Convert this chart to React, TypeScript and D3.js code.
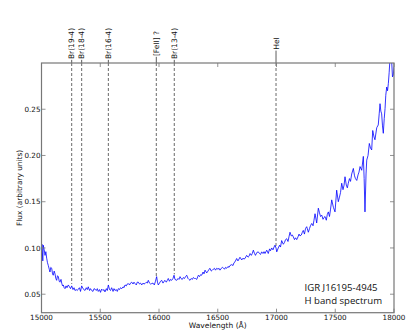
import React from "react";
import * as d3 from "d3";

// spectrum (wavelength in Angstrom, flux in arbitrary units)
const wavelength = [
  15000, 15004, 15011, 15015, 15023, 15030, 15037, 15044, 15051, 15058, 15066, 15072, 15079, 15087, 15094, 15100,
  15108, 15115, 15122, 15129, 15136, 15143, 15151, 15157, 15166, 15172, 15179, 15186, 15193, 15200, 15209, 15217,
  15228, 15238, 15247, 15257, 15268, 15277, 15285, 15296, 15305, 15313, 15323, 15332, 15342, 15353, 15362, 15370,
  15381, 15390, 15398, 15409, 15417, 15427, 15438, 15447, 15455, 15466, 15475, 15483, 15494, 15502, 15512, 15523,
  15532, 15540, 15552, 15560, 15569, 15579, 15587, 15597, 15609, 15617, 15626, 15637, 15645, 15654, 15664, 15672,
  15683, 15694, 15702, 15711, 15722, 15730, 15739, 15749, 15757, 15768, 15779, 15787, 15796, 15807, 15815, 15824,
  15834, 15843, 15853, 15864, 15872, 15881, 15892, 15900, 15909, 15919, 15928, 15938, 15949, 15960, 15970, 15980,
  15987, 15994, 16004, 16013, 16023, 16034, 16043, 16051, 16062, 16071, 16079, 16089, 16098, 16108, 16119, 16128,
  16136, 16151, 16162, 16170, 16179, 16187, 16198, 16207, 16217, 16226, 16236, 16247, 16255, 16264, 16275, 16283,
  16292, 16302, 16311, 16321, 16335, 16345, 16353, 16363, 16375, 16383, 16392, 16406, 16417, 16426, 16434, 16445,
  16454, 16462, 16472, 16481, 16491, 16502, 16511, 16519, 16530, 16539, 16547, 16558, 16566, 16576, 16587, 16596,
  16604, 16619, 16630, 16638, 16647, 16661, 16672, 16681, 16689, 16704, 16715, 16723, 16732, 16746, 16758, 16766,
  16775, 16786, 16794, 16803, 16813, 16821, 16832, 16845, 16855, 16864, 16874, 16885, 16894, 16902, 16917, 16930,
  16941, 16949, 16959, 16970, 16979, 16987, 16996, 17002, 17015, 17026, 17034, 17044, 17058, 17068, 17077, 17087,
  17098, 17106, 17115, 17126, 17135, 17143, 17153, 17162, 17172, 17183, 17192, 17200, 17211, 17220, 17228, 17238,
  17247, 17257, 17271, 17281, 17289, 17300, 17311, 17319, 17328, 17342, 17356, 17366, 17375, 17385, 17396, 17404,
  17413, 17424, 17432, 17441, 17451, 17460, 17470, 17484, 17498, 17512, 17526, 17536, 17545, 17555, 17566, 17575,
  17583, 17594, 17603, 17611, 17621, 17630, 17640, 17654, 17664, 17672, 17683, 17694, 17702, 17711, 17725, 17739,
  17746, 17753, 17762, 17768, 17779, 17790, 17800, 17810, 17819, 17830, 17838, 17853, 17866, 17874, 17881, 17888,
  17895, 17902, 17909, 17917, 17924, 17930, 17938, 17945, 17952, 17959, 17966, 17973, 17980, 17987, 17994, 18000,
];

const flux = [
  0.100, 0.104, 0.086, 0.103, 0.098, 0.092, 0.096, 0.089, 0.084, 0.081, 0.077, 0.074, 0.079, 0.078, 0.072, 0.0705,
  0.075, 0.072, 0.067, 0.065, 0.070, 0.069, 0.064, 0.063, 0.066, 0.062, 0.059, 0.060, 0.057, 0.056, 0.059, 0.057,
  0.060, 0.058, 0.056, 0.059, 0.055, 0.057, 0.054, 0.055, 0.054, 0.0555, 0.057, 0.053, 0.059, 0.056, 0.055, 0.054,
  0.057, 0.055, 0.058, 0.054, 0.056, 0.054, 0.053, 0.056, 0.0555, 0.054, 0.056, 0.053, 0.055, 0.052, 0.0555, 0.054,
  0.055, 0.0525, 0.056, 0.054, 0.060, 0.055, 0.054, 0.057, 0.053, 0.056, 0.054, 0.055, 0.053, 0.056, 0.055, 0.057,
  0.056, 0.058, 0.057, 0.060, 0.059, 0.061, 0.0615, 0.060, 0.062, 0.063, 0.061, 0.063, 0.0615, 0.060, 0.063, 0.063,
  0.061, 0.062, 0.060, 0.062, 0.061, 0.0615, 0.063, 0.062, 0.065, 0.062, 0.061, 0.0615, 0.062, 0.060, 0.064, 0.069,
  0.063, 0.060, 0.062, 0.064, 0.065, 0.062, 0.064, 0.065, 0.063, 0.065, 0.067, 0.064, 0.066, 0.065, 0.067, 0.0705,
  0.066, 0.065, 0.067, 0.066, 0.069, 0.067, 0.066, 0.068, 0.067, 0.069, 0.0705, 0.067, 0.066, 0.065, 0.067, 0.066,
  0.068, 0.067, 0.067, 0.066, 0.0705, 0.069, 0.071, 0.0705, 0.074, 0.072, 0.076, 0.073, 0.075, 0.077, 0.078, 0.075,
  0.076, 0.077, 0.078, 0.076, 0.078, 0.077, 0.078, 0.076, 0.078, 0.079, 0.0785, 0.077, 0.079, 0.078, 0.080, 0.079,
  0.081, 0.082, 0.081, 0.084, 0.085, 0.0886, 0.086, 0.088, 0.090, 0.087, 0.089, 0.088, 0.0886, 0.092, 0.090, 0.091,
  0.094, 0.092, 0.094, 0.0976, 0.094, 0.092, 0.095, 0.0958, 0.094, 0.093, 0.0958, 0.094, 0.096, 0.094, 0.0976, 0.094,
  0.099, 0.097, 0.100, 0.098, 0.101, 0.103, 0.100, 0.0958, 0.100, 0.103, 0.101, 0.108, 0.104, 0.106, 0.109, 0.110,
  0.107, 0.112, 0.117, 0.113, 0.114, 0.112, 0.109, 0.111, 0.109, 0.112, 0.115, 0.113, 0.114, 0.117, 0.119, 0.115,
  0.121, 0.123, 0.117, 0.121, 0.124, 0.1265, 0.124, 0.130, 0.137, 0.127, 0.143, 0.138, 0.134, 0.1355, 0.131, 0.133,
  0.134, 0.130, 0.136, 0.139, 0.134, 0.142, 0.152, 0.144, 0.139, 0.1625, 0.150, 0.155, 0.160, 0.170, 0.163, 0.168,
  0.177, 0.168, 0.165, 0.170, 0.175, 0.172, 0.180, 0.186, 0.178, 0.175, 0.173, 0.179, 0.182, 0.188, 0.184, 0.199,
  0.175, 0.139, 0.180, 0.195, 0.200, 0.213, 0.208, 0.206, 0.227, 0.220, 0.217, 0.230, 0.233, 0.245, 0.256, 0.248,
  0.245, 0.232, 0.224, 0.240, 0.251, 0.265, 0.274, 0.270, 0.278, 0.290, 0.305, 0.310, 0.302, 0.285, 0.287, 0.296,
];

const lineNames = ["Br(19-4)", "Br(18-4)", "Br(16-4)", "[FeII] ?", "Br(13-4)", "HeI"];
const lineWavelengths = [15257, 15342, 15569, 15977, 16130, 16996];

const xTicks = [15000, 15500, 16000, 16500, 17000, 17500, 18000];
const yTicks = [0.05, 0.1, 0.15, 0.2, 0.25];

const W = 415;
const H = 333;
const left = 41.5;
const right = 394;
const top = 63;
const bottom = 312.7;

const App = () => {
  const x = d3.scaleLinear().domain([15000, 18000]).range([left, right]);
  const y = d3.scaleLinear().domain([0.03, 0.3]).range([bottom, top]);

  const points: [number, number][] = wavelength.map((w, i) => [w, flux[i]]);
  const line = d3
    .line<[number, number]>()
    .x((d) => x(d[0]))
    .y((d) => y(d[1]));

  // flux under each identified line, so the dashed marker stops at the spectrum
  const fluxAt = (w: number) => {
    const i = d3.bisector((d: number) => d).left(wavelength, w);
    const i0 = Math.max(0, i - 1);
    const i1 = Math.min(wavelength.length - 1, i);
    if (i0 === i1) return flux[i0];
    const t = (w - wavelength[i0]) / (wavelength[i1] - wavelength[i0]);
    return flux[i0] + t * (flux[i1] - flux[i0]);
  };

  const fmtY = d3.format(".2f");
  const tickFont = "DejaVu Sans, sans-serif";

  return (
    <svg
      width={W}
      height={H}
      style={{ position: "absolute", left: 0, top: 0, background: "#fff" }}
    >
      <defs>
        <clipPath id="plot-clip">
          <rect x={left} y={top} width={right - left} height={bottom - top} />
        </clipPath>
      </defs>

      {/* identified lines */}
      {lineWavelengths.map((w, i) => (
        <g key={lineNames[i]}>
          <line
            x1={x(w)}
            x2={x(w)}
            y1={top}
            y2={y(fluxAt(w)) - 2}
            stroke="#444"
            strokeWidth={0.8}
            strokeDasharray="3,2"
          />
          <line x1={x(w)} x2={x(w)} y1={top} y2={44} stroke="#333" strokeWidth={0.8} />
          <text
            transform={`translate(${x(w)},43.5) rotate(-90)`}
            textAnchor="middle"
            dominantBaseline="central"
            fontFamily={tickFont}
            fontSize={7.5}
            fill="#111"
            stroke="#fff"
            strokeWidth={3}
            paintOrder="stroke"
          >
            {lineNames[i]}
          </text>
        </g>
      ))}

      {/* spectrum */}
      <path
        d={line(points) ?? ""}
        fill="none"
        stroke="#0000ff"
        strokeWidth={0.8}
        strokeLinejoin="round"
        clipPath="url(#plot-clip)"
      />

      {/* frame */}
      <rect
        x={left}
        y={top}
        width={right - left}
        height={bottom - top}
        fill="none"
        stroke="#777"
        strokeWidth={1.2}
      />

      {/* x ticks, inward on bottom and top */}
      {xTicks.map((t) => (
        <g key={t}>
          <line x1={x(t)} x2={x(t)} y1={bottom} y2={bottom - 4} stroke="#777" strokeWidth={0.8} />
          <line x1={x(t)} x2={x(t)} y1={top} y2={top + 4} stroke="#777" strokeWidth={0.8} />
          <text
            x={x(t)}
            y={320}
            textAnchor="middle"
            fontFamily={tickFont}
            fontSize={7.2}
            fill="#111"
          >
            {t}
          </text>
        </g>
      ))}

      {/* y ticks, inward on left and right */}
      {yTicks.map((t) => (
        <g key={t}>
          <line x1={left} x2={left + 4} y1={y(t)} y2={y(t)} stroke="#777" strokeWidth={0.8} />
          <line x1={right} x2={right - 4} y1={y(t)} y2={y(t)} stroke="#777" strokeWidth={0.8} />
          <text
            x={left - 1}
            y={y(t) + 2.6}
            textAnchor="end"
            fontFamily={tickFont}
            fontSize={7.2}
            fill="#111"
          >
            {fmtY(t)}
          </text>
        </g>
      ))}

      {/* axis titles */}
      <text
        x={(left + right) / 2}
        y={328}
        textAnchor="middle"
        fontFamily={tickFont}
        fontSize={7.5}
        fill="#111"
      >
        Wavelength (Å)
      </text>
      <text
        transform={`translate(19,${(top + bottom) / 2}) rotate(-90)`}
        textAnchor="middle"
        dominantBaseline="central"
        fontFamily={tickFont}
        fontSize={7.4}
        fill="#111"
      >
        Flux (arbitrary units)
      </text>

      {/* annotation */}
      <text x={304.5} y={290.5} fontFamily="Open Sans, sans-serif" fontSize={9.6} fill="#111">
        IGR J16195-4945
      </text>
      <text x={304.5} y={304} fontFamily="Open Sans, sans-serif" fontSize={9.6} fill="#111">
        H band spectrum
      </text>
    </svg>
  );
};

export default App;
